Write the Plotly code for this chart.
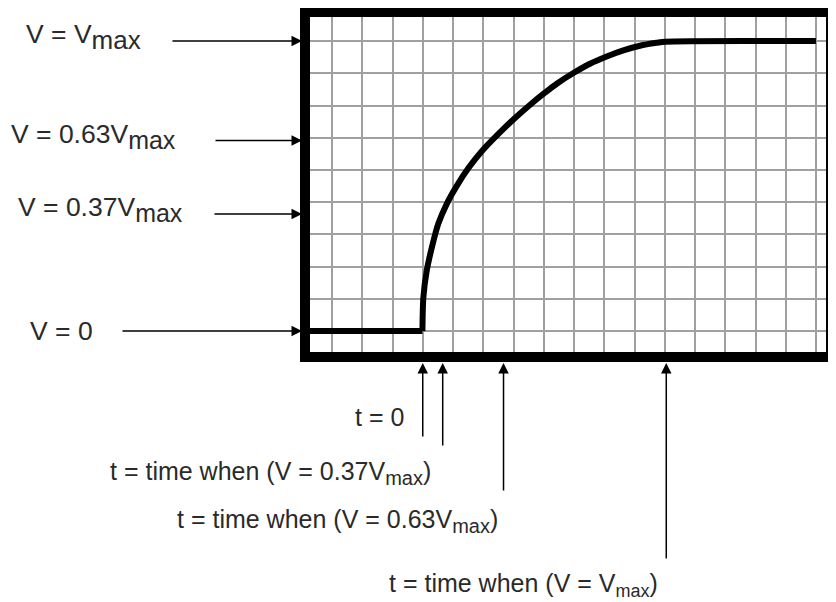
import plotly.graph_objects as go

# the page body keeps an 8px margin, so the figure is drawn 8px smaller
OFF = 8
W, H = 836 - OFF, 602 - OFF
# plot area (inner edge of the thick frame), in figure pixels
L, R, T, B = 302, 10, 9, 250
PW, PH = W - L - R, H - T - B
FRAME = 10

# flat part before the step, in grid divisions
base_t = [-0.75, 2.99]
base_v = [0.0, 0.0]

# charging curve: x in grid divisions, V as a fraction of Vmax
t_grid = [2.99, 3.02, 3.13, 3.30, 3.51, 3.79, 4.12, 4.51, 4.95, 5.50, 6.05,
          6.60, 7.04, 7.43, 7.98, 8.53, 9.08, 9.63, 10.18, 10.73, 11.02, 16.0]
v_frac = [0.0, 0.115, 0.207, 0.288, 0.369, 0.438, 0.500, 0.562, 0.620, 0.680, 0.735,
          0.785, 0.822, 0.853, 0.890, 0.922, 0.947, 0.968, 0.984, 0.994, 0.998, 1.0]

# left hand markers (voltage levels)
v_labels = ["V = V<sub><span style='font-size:26px'>max</span></sub>",
            "V = 0.63V<sub><span style='font-size:25px'>max</span></sub>",
            "V = 0.37V<sub><span style='font-size:25px'>max</span></sub>",
            "V = 0"]
v_marks = [1.0, 0.657, 0.404, 0.0]

# bottom markers (times)
t_labels = ["t = 0",
            "t = time when (V = 0.37V<sub><span style='font-size:20px'>max</span></sub>)",
            "t = time when (V = 0.63V<sub><span style='font-size:20px'>max</span></sub>)",
            "t = time when (V = V<sub><span style='font-size:18px'>max</span></sub>)"]
t_marks = [3.0, 3.66, 5.67, 11.05]


def px_x(p):
    # p is a pixel column of the 836x602 page
    return (p - OFF - L) / PW


def px_y(q):
    return (H - B - (q - OFF)) / PH


font = dict(family="Liberation Sans, Arial, sans-serif", size=25, color="#2a2a2a")
font_left = dict(font, size=26.5)
arrow = dict(showarrow=True, arrowhead=2, arrowsize=1.4, arrowwidth=1.5,
             arrowcolor="black", standoff=0)

fig = go.Figure()
fig.add_trace(go.Scatter(x=base_t, y=base_v, mode="lines",
                         line=dict(color="black", width=6),
                         hoverinfo="skip", showlegend=False))
fig.add_trace(go.Scatter(x=t_grid, y=v_frac, mode="lines",
                         line=dict(color="black", width=6, shape="spline", smoothing=0.8),
                         hoverinfo="skip", showlegend=False))

# thick frame just outside the plot area
half = FRAME / 2
fig.add_shape(type="rect", xref="paper", yref="paper",
              x0=-half / PW, x1=1 + half / PW, y0=-half / PH, y1=1 + half / PH,
              line=dict(color="black", width=FRAME), layer="above")

ann = []
# arrows pointing at the left side of the frame
v_tail = [-131, -88, -89, -181]
v_text_right = [143, 178, 185, 95]
v_shift = [4, 4, 4, 0]
for lab, v, ax, xr, ys in zip(v_labels, v_marks, v_tail, v_text_right, v_shift):
    ann.append(dict(xref="paper", yref="y", x=px_x(302), y=v, text="",
                    ax=ax, ay=0, **arrow))
    ann.append(dict(xref="paper", yref="y", x=px_x(xr), y=v, text=lab,
                    showarrow=False, xanchor="right", yanchor="middle",
                    yshift=ys, font=font_left))

# arrows pointing up at the bottom of the frame
t_tail = [75, 84, 129, 197]
t_text_x = [406, 270, 337, 523]
t_text_y = [417, 473, 521, 585]
t_anchor = ["right", "center", "center", "center"]
for lab, t, ay, tx, ty, xa in zip(t_labels, t_marks, t_tail, t_text_x, t_text_y, t_anchor):
    ann.append(dict(xref="x", yref="paper", x=t, y=px_y(363), text="",
                    ax=0, ay=ay, **arrow))
    ann.append(dict(xref="paper", yref="paper", x=px_x(tx), y=px_y(ty), text=lab,
                    showarrow=False, xanchor=xa, yanchor="middle", font=font))

axis_common = dict(showticklabels=False, ticks="", zeroline=False,
                   showgrid=True, gridcolor="#a0a0a0", gridwidth=1.6,
                   showline=False, fixedrange=True)

fig.update_layout(
    width=W, height=H,
    margin=dict(l=L, r=R, t=T, b=B, autoexpand=False),
    paper_bgcolor="white", plot_bgcolor="white",
    xaxis=dict(range=[-0.727, 16.33], tick0=0, dtick=1, **axis_common),
    yaxis=dict(range=[-0.072, 1.083], tick0=0, dtick=1 / 9, **axis_common),
    annotations=ann,
    showlegend=False,
)

fig.write_html("out.html", config={"displayModeBar": False})
